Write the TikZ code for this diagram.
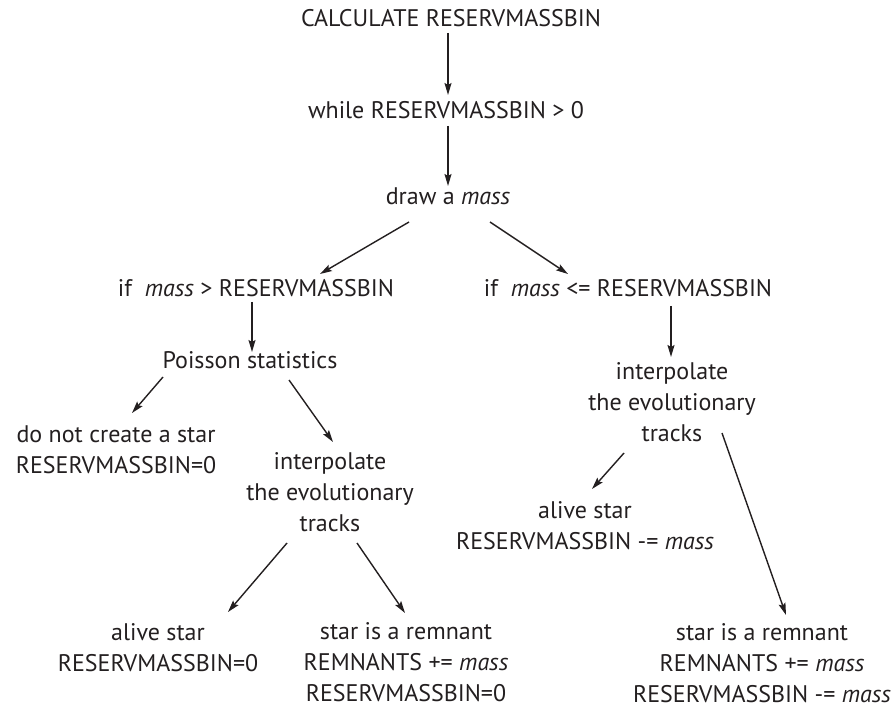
\documentclass[tikz,border=0pt]{standalone}
\usepackage{fontspec}
\setmainfont{PT Sans}
\usetikzlibrary{arrows.meta}
\definecolor{ink}{RGB}{35,31,32}
\begin{document}
\begin{tikzpicture}[x=1pt,y=-1pt,
  lbl/.style={inner sep=0pt,anchor=base,align=center,text=ink,
    font=\fontsize{24}{31}\selectfont},
  arr/.style={draw=ink,line width=1.4pt,
    -{Stealth[length=12pt,width=7pt,inset=2pt]}}]
\useasboundingbox (0,0) rectangle (896,708);
% nodes, each placed at the baseline of its last line
\node[lbl] (calc)  at (451,27)  {CALCULATE RESERVMASSBIN};
\node[lbl] (loop)  at (446,119) {while RESERVMASSBIN > 0};
\node[lbl] (draw)  at (448,205) {draw a \textit{mass}};
\node[lbl] (big)   at (256,297) {if\ \ \textit{mass} > RESERVMASSBIN};
\node[lbl] (small) at (628,297) {if\ \ \textit{mass} <= RESERVMASSBIN};
\node[lbl] (pois)  at (250,368) {Poisson statistics};
\node[lbl] (none)  at (116,473) {do not create a star\\RESERVMASSBIN=0};
\node[lbl] (intL)  at (330,531) {interpolate\\the evolutionary\\tracks};
\node[lbl] (intR)  at (672,441) {interpolate\\the evolutionary\\tracks};
\node[lbl] (aliveL) at (158,671) {alive star\\RESERVMASSBIN=0};
\node[lbl] (remL)  at (406,701) {star is a remnant\\REMNANTS += \textit{mass}\\RESERVMASSBIN=0};
\node[lbl] (aliveR) at (585,549) {alive star\\RESERVMASSBIN -= \textit{mass}};
\node[lbl] (remR)  at (762,702) {star is a remnant\\REMNANTS += \textit{mass}\\RESERVMASSBIN -= \textit{mass}};
% connectors
\draw[arr] ([shift={(-3,6)}]calc.base)   -- ([shift={(2,-24)}]loop.base);
\draw[arr] ([shift={(2,7)}]loop.base)    -- ([shift={(0,-19)}]draw.base);
\draw[arr] ([shift={(-39,17)}]draw.base) -- ([shift={(64,-23)}]big.base);
\draw[arr] ([shift={(42,17)}]draw.base)  -- ([shift={(-60,-23)}]small.base);
\draw[arr] ([shift={(-4,5)}]big.base)    -- ([shift={(2,-16)}]pois.base);
\draw[arr] ([shift={(-87,9)}]pois.base)  -- ([shift={(16,-60)}]none.base);
\draw[arr] ([shift={(39,12)}]pois.base)  -- ([shift={(3,-89)}]intL.base);
\draw[arr] ([shift={(43,9)}]small.base)  -- ([shift={(-1,-84)}]intR.base);
\draw[arr] ([shift={(-43,12)}]intL.base) -- ([shift={(70,-59)}]aliveL.base);
\draw[arr] ([shift={(27,12)}]intL.base)  -- ([shift={(-1,-88)}]remL.base);
\draw[arr] ([shift={(-48,12)}]intR.base) -- ([shift={(7,-60)}]aliveR.base);
\draw[arr] ([shift={(50,-8)}]intR.base)  -- ([shift={(24,-87)}]remR.base);
\end{tikzpicture}
\end{document}
